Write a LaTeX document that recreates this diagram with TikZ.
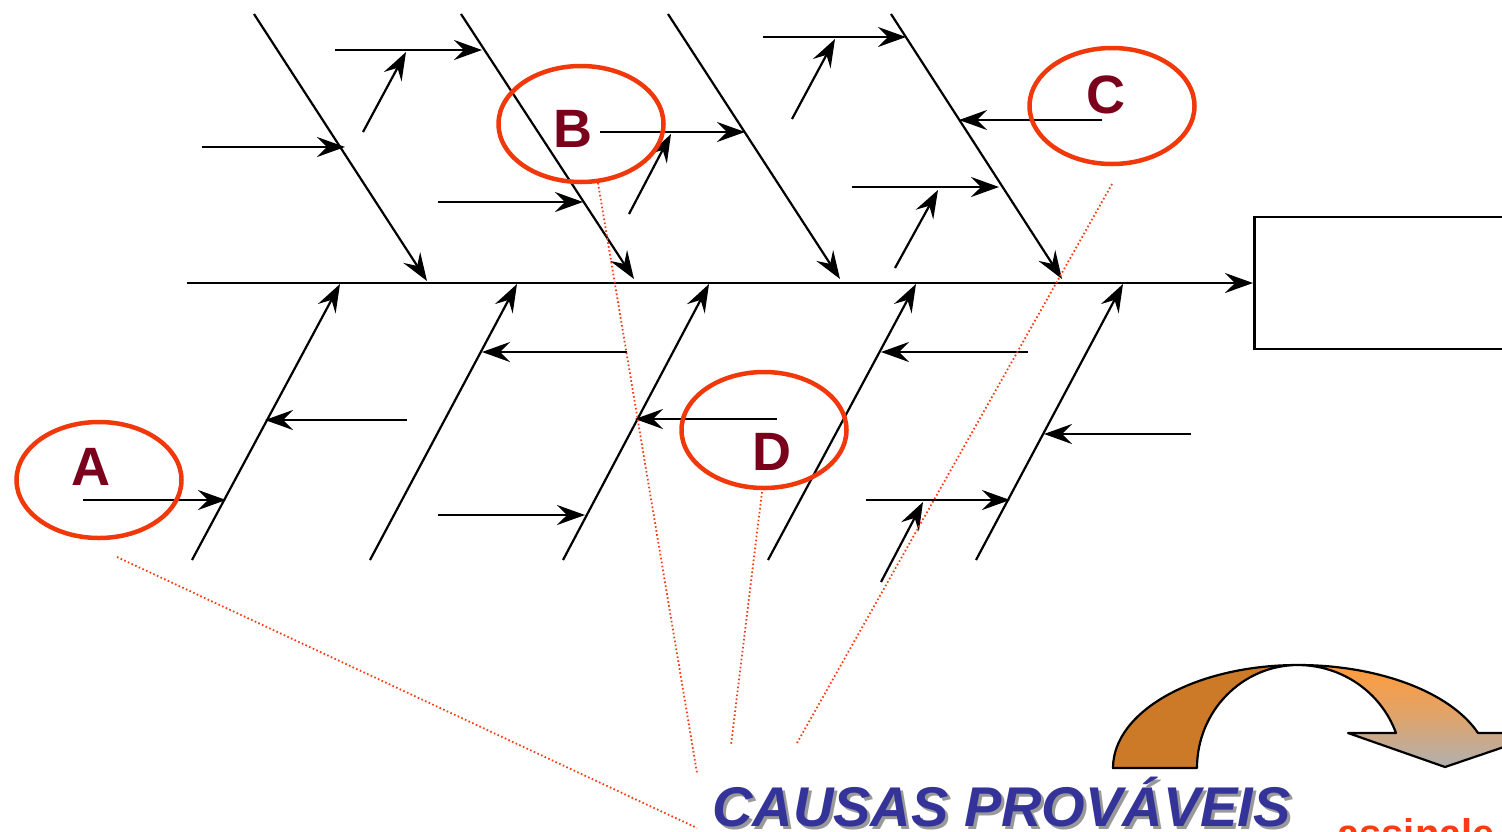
\documentclass[tikz,border=0pt]{standalone}
\usepackage{fontspec}
\setmainfont{Liberation Sans}
\usetikzlibrary{positioning, arrows.meta, shapes.geometric, calc}
\definecolor{ringred}{RGB}{240,56,10}
\definecolor{dotred}{RGB}{250,60,20}
\definecolor{tagmaroon}{RGB}{122,0,28}
\definecolor{causeblue}{RGB}{51,51,153}
\definecolor{bandbrown}{RGB}{204,122,40}
\definecolor{bandorange}{RGB}{255,155,60}
\definecolor{bandgray}{RGB}{176,176,176}
\tikzset{
    bone/.style={line width=2.2pt, -{Stealth[length=28pt, width=20pt, inset=10pt]}},
    ring/.style={draw=ringred, line width=4.5pt, ellipse, minimum width=165pt, minimum height=116pt, inner sep=0pt},
    tag/.style={font=\fontsize{54}{60}\selectfont\bfseries, text=tagmaroon, inner sep=0pt, anchor=base},
    pointer/.style={draw=dotred, line width=1.8pt, dash pattern=on 1.6pt off 2.4pt},
    effectbox/.style={draw, line width=2.5pt, minimum width=320pt, minimum height=132pt, anchor=west, inner sep=0pt},
    causes/.style={font=\fontsize{56}{60}\selectfont\bfseries\itshape, inner sep=0pt, anchor=base west},
}

\begin{document}
\begin{tikzpicture}[x=1pt, y=-1pt]
    \useasboundingbox (0,0) rectangle (1502,831);
    \clip (0,0) rectangle (1502,831);
    % Espinha principal e efeito
    \coordinate (tail) at (187,283);
    \node[effectbox] (effect) at (1253,283) {};
    \draw[bone] (tail) -- (effect.west);
    % Espinhas de cima
    \foreach \i/\xs/\xe/\ye in {1/254/427/281, 2/461/634/279, 3/668/840/279, 4/891/1062/279} {
        \coordinate (top\i) at (\xs,14);
        \coordinate (topend\i) at (\xe,\ye);
        \draw[bone] (top\i) -- (topend\i);
    }
    % Espinhas de baixo
    \foreach \i/\xs/\xe in {1/192/340, 2/370/517, 3/563/709, 4/768/916, 5/976/1123} {
        \coordinate (bot\i) at (\xs,560);
        \coordinate (botend\i) at (\xe,284);
        \draw[bone] (bot\i) -- (botend\i);
    }
    % Causas secundarias
    \foreach \n/\xa/\ya/\xb/\yb in {
        s1/202/147/345/147, s2/335/50/482/50, s2x/363/132/406/52,
        s3/438/202/583/202, s4/600/132/745/132, s4x/629/214/671/134,
        s5/763/37/906/37, s5x/792/119/835/39, s6/852/187/999/187,
        s6x/895/268/938/190, s7/1102/120/959/120,
        u1/83/500/226/500, u2/407/420/265/420, u3/627/352/482/352,
        u4/438/515/585/515, u5/777/419/635/419, u6/1028/352/881/352,
        u7/866/500/1010/500, u7x/881/582/923/502, u8/1191/434/1044/434} {
        \coordinate (\n from) at (\xa,\ya);
        \coordinate (\n to) at (\xb,\yb);
        \draw[bone] (\n from) -- (\n to);
    }
    % Marcas A B C D
    \node[ring] (ringA) at (99,480) {};
    \node[ring] (ringB) at (581,124) {};
    \node[ring] (ringC) at (1112,106) {};
    \node[ring] (ringD) at (764,430) {};
    \node[tag] (tagA) at (91,485) {A};
    \node[tag] (tagB) at (573,147) {B};
    \node[tag] (tagC) at (1106,113) {C};
    \node[tag] (tagD) at (772,470) {D};
    % Linhas de chamada
    \coordinate (pA) at (117,557);  \coordinate (qA) at (697,828);
    \coordinate (pB) at (598,183);  \coordinate (qB) at (697,773);
    \coordinate (pD) at (762,492);  \coordinate (qD) at (731,745);
    \coordinate (pC) at (1112,184); \coordinate (qC) at (797,743);
    \draw[pointer] (pA) -- (qA);
    \draw[pointer] (pB) -- (qB);
    \draw[pointer] (pD) -- (qD);
    \draw[pointer] (pC) -- (qC);
    % Texto
    \node[causes, text=black!40] (causasshadow) at (715,829) {CAUSAS PROVÁVEIS};
    \node[causes, text=causeblue] (causas) at (712,826) {CAUSAS PROVÁVEIS};
    \node[font=\fontsize{40}{44}\selectfont\bfseries, text=dotred, inner sep=0pt, anchor=base west] (assinale) at (1337,847) {assinale};
    % Seta curva
    \draw[line width=2.2pt, line join=round, top color=bandorange, bottom color=bandgray, middle color=bandorange!60!bandgray]
        (1298,665) arc[start angle=270, end angle=340.1, x radius=191.4, y radius=103]
        -- (1545,733) -- (1445,767) -- (1348,733) -- (1396,733)
        arc[start angle=340.1, end angle=270, x radius=104.2, y radius=103] -- cycle;
    \draw[line width=2.2pt, line join=round, fill=bandbrown]
        (1113,768) arc[start angle=180, end angle=270, x radius=185, y radius=103]
        arc[start angle=270, end angle=180, x radius=101, y radius=103] -- cycle;
\end{tikzpicture}
\end{document}
